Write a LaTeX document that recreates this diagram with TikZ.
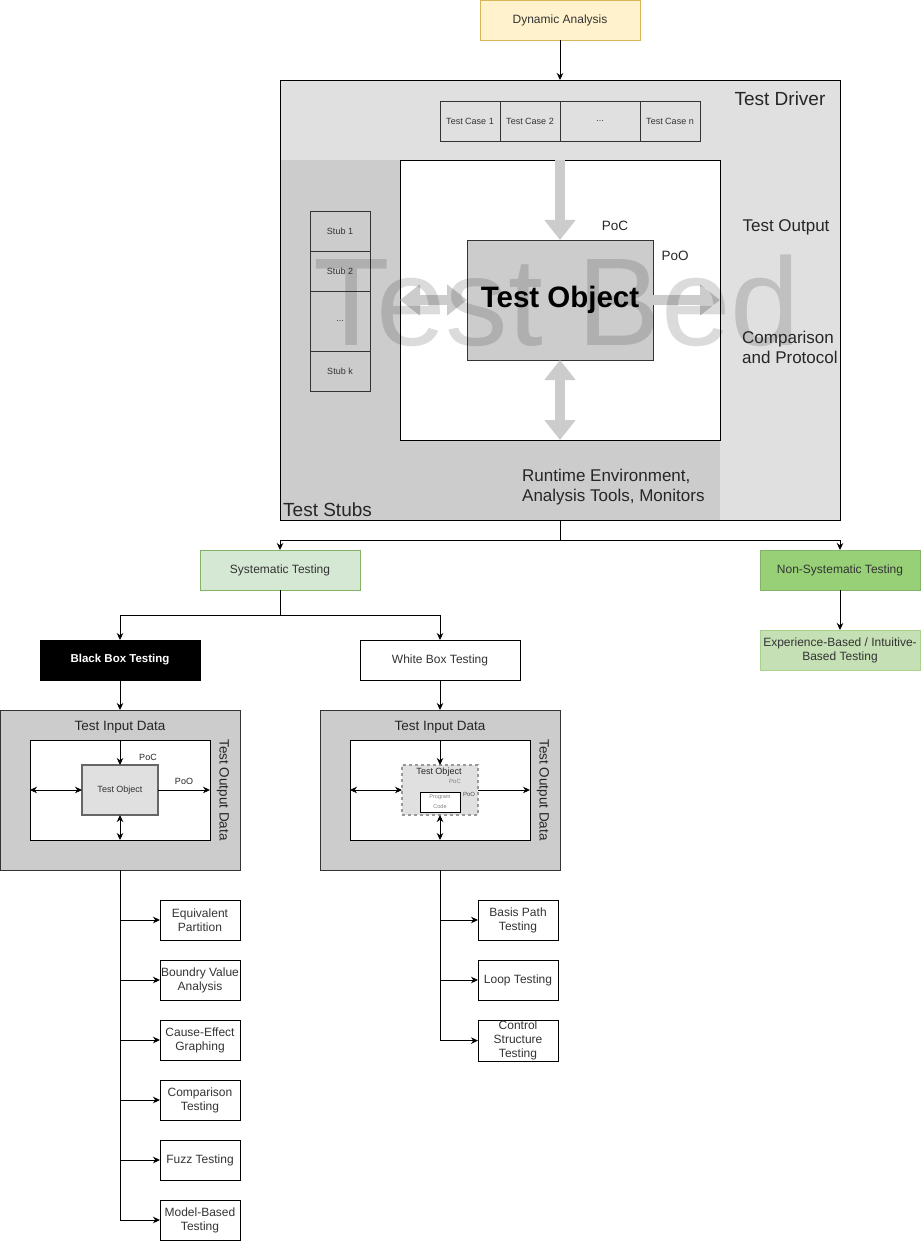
\documentclass[tikz,border=0pt]{standalone}
\usepackage{fontspec}
\setmainfont{Liberation Sans}
\usetikzlibrary{positioning, arrows.meta, calc}
\definecolor{clrdyn_fill}{HTML}{FFF2CC}
\definecolor{clrdyn_draw}{HTML}{D6B656}
\definecolor{clrdriver}{HTML}{E0E0E0}
\definecolor{clrstubs}{HTML}{CCCCCC}
\definecolor{clrbigarrow}{HTML}{CCCCCC}
\definecolor{clrborder}{HTML}{333333}
\definecolor{clrtext}{HTML}{333333}
\definecolor{clrbed}{HTML}{000000}
\definecolor{clrobj_small}{HTML}{E0E0E0}
\definecolor{clrobj_frame}{HTML}{666666}
\definecolor{clrobj_dash}{HTML}{999999}
\definecolor{clrsys_fill}{HTML}{D5E8D4}
\definecolor{clrsys_draw}{HTML}{82B366}
\definecolor{clrnonsys_fill}{HTML}{97D077}
\definecolor{clrnonsys_draw}{HTML}{82B366}
\definecolor{clrexp_fill}{HTML}{C5E0B4}
\definecolor{clrexp_draw}{HTML}{A9D18E}

\begin{document}
\begin{tikzpicture}[
    x=1pt, y=-1pt,
    >={Stealth[length=7pt,width=6.5pt]},
    box/.style={draw=black, align=center, inner sep=1pt, outer sep=0pt,
                minimum width=80pt, minimum height=40pt, text=clrtext,
                font=\fontsize{12}{14}\selectfont, line width=0.8pt},
    cellbox/.style={draw=clrborder, inner sep=0pt, outer sep=0pt, minimum width=60pt,
                    minimum height=40pt, text=clrtext, font=\fontsize{9}{11}\selectfont, line width=0.8pt},
    arrow/.style={->, line width=0.9pt, color=black},
    dblarrow/.style={<->, line width=0.9pt, color=black},
    bigarrow/.style={-{Triangle[width=30pt,length=20pt]}, line width=10pt, color=clrbigarrow},
    bigdblarrow/.style={{Triangle[width=30pt,length=20pt]}-{Triangle[width=30pt,length=20pt]}, line width=10pt, color=clrbigarrow},
    biglabel/.style={font=\fontsize{19}{22}\selectfont, text=black!85, inner sep=0pt},
    midlabel/.style={font=\fontsize{17}{20}\selectfont, text=black!85, inner sep=0pt, align=left},
    poclabel/.style={font=\fontsize{13.5}{16}\selectfont, text=black!85, inner sep=0pt},
    smalllabel/.style={font=\fontsize{9}{11}\selectfont, text=black!85, inner sep=0pt},
    tinylabel/.style={font=\fontsize{6}{7}\selectfont, text=black!50, inner sep=0pt},
    panellabel/.style={font=\fontsize{13.5}{16}\selectfont, text=black!85, inner sep=0pt},
]
\useasboundingbox (0,0) rectangle (921,1241);
\node[box, fill=clrdyn_fill, draw=clrdyn_draw, minimum width=160pt] (n_dyn) at (560,20) {Dynamic Analysis};
\node[fill=clrdriver, minimum width=560pt, minimum height=440pt, inner sep=0pt, outer sep=0pt] (n_driver) at (560,300) {};
\node[fill=clrstubs, minimum width=440pt, minimum height=360pt, inner sep=0pt, outer sep=0pt] (n_stubarea) at (500,340) {};
\draw[line width=0.8pt] (n_driver.north west) rectangle (n_driver.south east);
\draw[arrow] (n_dyn.south) -- (n_driver.north);
\node[biglabel] (n_drvlbl) at (780,99) {Test Driver};
\node[cellbox] (n_tc1) at (470,121) {Test Case 1};
\node[cellbox, right=0pt of n_tc1] (n_tc2) {Test Case 2};
\node[cellbox, minimum width=80pt, right=0pt of n_tc2] (n_tcdots) {...};
\node[cellbox, right=0pt of n_tcdots] (n_tcn) {Test Case n};
\node[cellbox, minimum height=40pt] (n_stub1) at (340,231) {Stub 1};
\node[cellbox, minimum height=40pt, below=0pt of n_stub1] (n_stub2) {Stub 2};
\node[cellbox, minimum height=60pt, below=0pt of n_stub2] (n_stubdots) {...};
\node[cellbox, minimum height=40pt, below=0pt of n_stubdots] (n_stubk) {Stub k};
\node[draw=black, fill=white, line width=0.8pt, minimum width=320pt, minimum height=280pt, inner sep=0pt, outer sep=0pt] (n_bed) at (560,300) {};
\node[draw=clrborder, fill=clrstubs, line width=0.8pt, minimum width=186pt, minimum height=120pt, inner sep=0pt, outer sep=0pt, font=\fontsize{29.5}{33}\selectfont\bfseries] (n_obj) at (560,300) {Test Object};
\draw[bigarrow] (n_bed.north) -- (n_obj.north);
\draw[bigdblarrow] (n_bed.west) -- (n_obj.west);
\draw[bigarrow] (n_obj.east) -- (n_bed.east);
\draw[bigdblarrow] (n_obj.south) -- (n_bed.south);
\node[font=\fontsize{125}{125}\selectfont, text=clrbed, text opacity=0.14, inner sep=0pt] (n_testbed) at (557,301) {Test Bed};
\node[poclabel] (n_poc) at (615,226) {PoC};
\node[poclabel] (n_poo) at (675,256) {PoO};
\node[midlabel] (n_output) at (786,227) {Test Output};
\node[midlabel, anchor=west] (n_compare) at (742,347) {Comparison\\and Protocol};
\node[midlabel, anchor=west] (n_runtime) at (522,487) {Runtime Environment,\\Analysis Tools, Monitors};
\node[biglabel, anchor=west] (n_stublbl) at (283,510) {Test Stubs};
\node[box, fill=clrsys_fill, draw=clrsys_draw, minimum width=160pt] (n_sys) at (280,570) {Systematic Testing};
\node[box, fill=clrnonsys_fill, draw=clrnonsys_draw, minimum width=160pt] (n_nonsys) at (840,570) {Non-Systematic Testing};
\node[box, fill=clrexp_fill, draw=clrexp_draw, minimum width=160pt, below=40pt of n_nonsys] (n_exp) {Experience-Based / Intuitive-\\Based Testing};
\draw[arrow] (n_driver.south) -- ++(0,20) -| (n_sys.north);
\draw[arrow] (n_driver.south) -- ++(0,20) -| (n_nonsys.north);
\draw[arrow] (n_nonsys.south) -- (n_exp.north);
\node[box, fill=black, text=white, minimum width=160pt, font=\fontsize{11.5}{14}\selectfont\bfseries] (n_black) at (120,660) {Black Box Testing};
\node[box, fill=white, minimum width=160pt] (n_white) at (440,660) {White Box Testing};
\draw[arrow] (n_sys.south) -- ++(0,25) -| (n_black.north);
\draw[arrow] (n_sys.south) -- ++(0,25) -| (n_white.north);
\node[box, fill=clrstubs, draw=clrborder, minimum width=240pt, minimum height=160pt] (n_bpanel) at (120,790) {};
\node[box, fill=white, minimum width=180pt, minimum height=100pt] (n_binner) at (120,790) {};
\node[box, fill=clrobj_small, draw=clrobj_frame, line width=1.8pt, minimum width=76pt, minimum height=50pt, font=\fontsize{9}{11}\selectfont] (n_bobj) at (120,790) {Test Object};
\node[panellabel] (n_bin) at (120,727) {Test Input Data};
\node[panellabel, rotate=-90] (n_bout) at (223,790) {Test Output Data};
\node[smalllabel] (n_bpoc) at (148,757) {PoC};
\node[smalllabel] (n_bpoo) at (184,781) {PoO};
\draw[arrow] (n_black.south) -- (n_bpanel.north);
\draw[arrow] (n_binner.north) -- (n_bobj.north);
\draw[dblarrow] (n_binner.west) -- (n_bobj.west);
\draw[arrow] (n_bobj.east) -- (n_binner.east);
\draw[dblarrow] (n_bobj.south) -- (n_binner.south);
\node[box, fill=clrstubs, draw=clrborder, minimum width=240pt, minimum height=160pt] (n_wpanel) at (440,790) {};
\node[box, fill=white, minimum width=180pt, minimum height=100pt] (n_winner) at (440,790) {};
\node[box, fill=clrobj_small, draw=clrobj_dash, dashed, line width=1.2pt, minimum width=76pt, minimum height=50pt] (n_wobj) at (440,790) {};
\node[smalllabel] (n_wobjlbl) at (439,772) {Test Object};
\node[tinylabel] (n_wpoc) at (455,781) {PoC};
\node[box, fill=white, minimum width=40pt, minimum height=20pt, inner sep=0pt, text=black!50, font=\fontsize{5.5}{10}\selectfont] (n_code) at (440,802) {Program\\Code};
\node[tinylabel, text=black!70] (n_wpoo) at (469,794) {PoO};
\node[panellabel] (n_win) at (440,727) {Test Input Data};
\node[panellabel, rotate=-90] (n_wout) at (543,790) {Test Output Data};
\draw[arrow] (n_white.south) -- (n_wpanel.north);
\draw[arrow] (n_winner.north) -- (n_wobj.north);
\draw[dblarrow] (n_winner.west) -- (n_wobj.west);
\draw[arrow] (n_wobj.east) -- (n_winner.east);
\draw[dblarrow] (n_wobj.south) -- (n_winner.south);
\node[box] (n_eq) at (200,920) {Equivalent\\Partition};
\node[box, below=20pt of n_eq] (n_bva) {Boundry Value\\Analysis};
\node[box, below=20pt of n_bva] (n_ceg) {Cause-Effect\\Graphing};
\node[box, below=20pt of n_ceg] (n_cmp) {Comparison\\Testing};
\node[box, below=20pt of n_cmp] (n_fuzz) {Fuzz Testing};
\node[box, below=20pt of n_fuzz] (n_mbt) {Model-Based\\Testing};
\draw[arrow] (n_bpanel.south) |- (n_eq.west);
\draw[arrow] (n_bpanel.south) |- (n_bva.west);
\draw[arrow] (n_bpanel.south) |- (n_ceg.west);
\draw[arrow] (n_bpanel.south) |- (n_cmp.west);
\draw[arrow] (n_bpanel.south) |- (n_fuzz.west);
\draw[arrow] (n_bpanel.south) |- (n_mbt.west);
\node[box] (n_bpt) at (518,920) {Basis Path\\Testing};
\node[box, below=20pt of n_bpt] (n_loop) {Loop Testing};
\node[box, below=20pt of n_loop] (n_cst) {Control\\Structure\\Testing};
\draw[arrow] (n_wpanel.south) |- (n_bpt.west);
\draw[arrow] (n_wpanel.south) |- (n_loop.west);
\draw[arrow] (n_wpanel.south) |- (n_cst.west);
\end{tikzpicture}
\end{document}
